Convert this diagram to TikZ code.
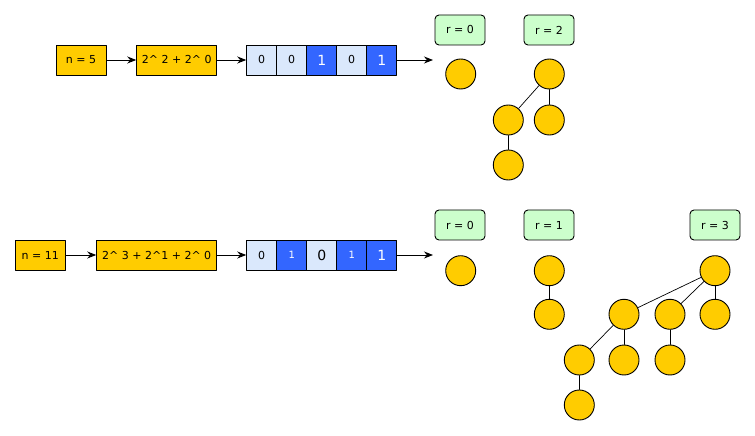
\documentclass[tikz,border=0pt]{standalone}
\usepackage{fontspec}
\setmainfont{DejaVu Sans}
\usetikzlibrary{arrows.meta}
\definecolor{HeapYellow}{RGB}{255,204,0}
\definecolor{BitLight}{RGB}{218,232,252}
\definecolor{BitDark}{RGB}{51,102,255}
\definecolor{RankGreen}{RGB}{204,255,204}

\begin{document}
\begin{tikzpicture}[x=1bp,y=-1bp,line cap=round,line join=round]
  \path[use as bounding box] (0,0) rectangle (755,436);
  \fill[white] (0,0) rectangle (755,436);

  \tikzset{
    valbox/.style={draw,line width=0.9bp,fill=HeapYellow,minimum height=30bp,
      inner sep=0pt,font=\fontsize{11bp}{11bp}\selectfont},
    bitoff/.style={draw,line width=0.9bp,fill=BitLight,minimum width=30bp,
      minimum height=30bp,inner sep=0pt},
    biton/.style={bitoff,fill=BitDark,text=white},
    rankbox/.style={draw,line width=0.9bp,fill=RankGreen,rounded corners=4bp,
      minimum width=50bp,minimum height=30bp,inner sep=0pt,
      font=\fontsize{11bp}{11bp}\selectfont},
    treenode/.style={circle,draw,line width=0.9bp,fill=HeapYellow,
      minimum size=30bp,inner sep=0pt},
    flow/.style={-{Stealth[length=9bp,width=7bp]},line width=0.9bp},
    link/.style={line width=0.7bp},
  }

  % 1: n = 5
  \node[valbox,minimum width=50bp] (n5) at (81,60) {n = 5};
  \node[valbox,minimum width=80bp] (sum5) at (176.7,60) {2\^{} 2 + 2\^{} 0};
  \foreach \i/\kind/\v/\size in {1/bitoff/0/11,2/bitoff/0/11,3/biton/1/14,
      4/bitoff/0/11,5/biton/1/14} {
    \node[\kind,font=\fontsize{\size bp}{\size bp}\selectfont] (b5-\i)
      at ({261.7 + 30*(\i-1)},60) {\v};
  }
  \coordinate (end5) at (433,60);
  \draw[flow] (n5) -- (sum5);
  \draw[flow] (sum5) -- (b5-1);
  \draw[flow] (b5-5) -- (end5);

  \node[rankbox] (r5a) at (460,30) {r = 0};
  \node[rankbox] (r5b) at (549,30) {r = 2};

  \node[treenode] (t5a) at (460.7,74) {};
  \node[treenode] (t5b) at (549.3,74) {};
  \node[treenode] (t5b1) at (508.3,120) {};
  \node[treenode] (t5b2) at (549.3,120) {};
  \node[treenode] (t5b11) at (508.3,165) {};
  \draw[link] (t5b) -- (t5b1);
  \draw[link] (t5b) -- (t5b2);
  \draw[link] (t5b1) -- (t5b11);

  % 2: n = 11
  \node[valbox,minimum width=50bp] (n11) at (40.3,255) {n = 11};
  \node[valbox,minimum width=120bp] (sum11) at (156.7,255) {2\^{} 3 + 2\^{}1 + 2\^{} 0};
  \foreach \i/\kind/\v/\size in {1/bitoff/0/11,2/biton/1/10,3/bitoff/0/14,
      4/biton/1/10,5/biton/1/14} {
    \node[\kind,font=\fontsize{\size bp}{\size bp}\selectfont] (b11-\i)
      at ({261.7 + 30*(\i-1)},255) {\v};
  }
  \coordinate (end11) at (433,255);
  \draw[flow] (n11) -- (sum11);
  \draw[flow] (sum11) -- (b11-1);
  \draw[flow] (b11-5) -- (end11);

  \node[rankbox] (r11a) at (460,225) {r = 0};
  \node[rankbox] (r11b) at (549,225) {r = 1};
  \node[rankbox] (r11c) at (715,225) {r = 3};

  \node[treenode] (t11a) at (460.7,270.7) {};
  \node[treenode] (t11b) at (549.3,270.7) {};
  \node[treenode] (t11b1) at (549.3,314.3) {};
  \draw[link] (t11b) -- (t11b1);

  \node[treenode] (t11c) at (715,270.7) {};
  \node[treenode] (t11c1) at (624,314.3) {};
  \node[treenode] (t11c2) at (670,314.3) {};
  \node[treenode] (t11c3) at (715,314.3) {};
  \node[treenode] (t11c11) at (579.3,360) {};
  \node[treenode] (t11c12) at (624,360) {};
  \node[treenode] (t11c21) at (670,360) {};
  \node[treenode] (t11c111) at (579.3,405) {};
  \draw[link] (t11c) -- (t11c1);
  \draw[link] (t11c) -- (t11c2);
  \draw[link] (t11c) -- (t11c3);
  \draw[link] (t11c1) -- (t11c11);
  \draw[link] (t11c1) -- (t11c12);
  \draw[link] (t11c2) -- (t11c21);
  \draw[link] (t11c11) -- (t11c111);
\end{tikzpicture}
\end{document}
